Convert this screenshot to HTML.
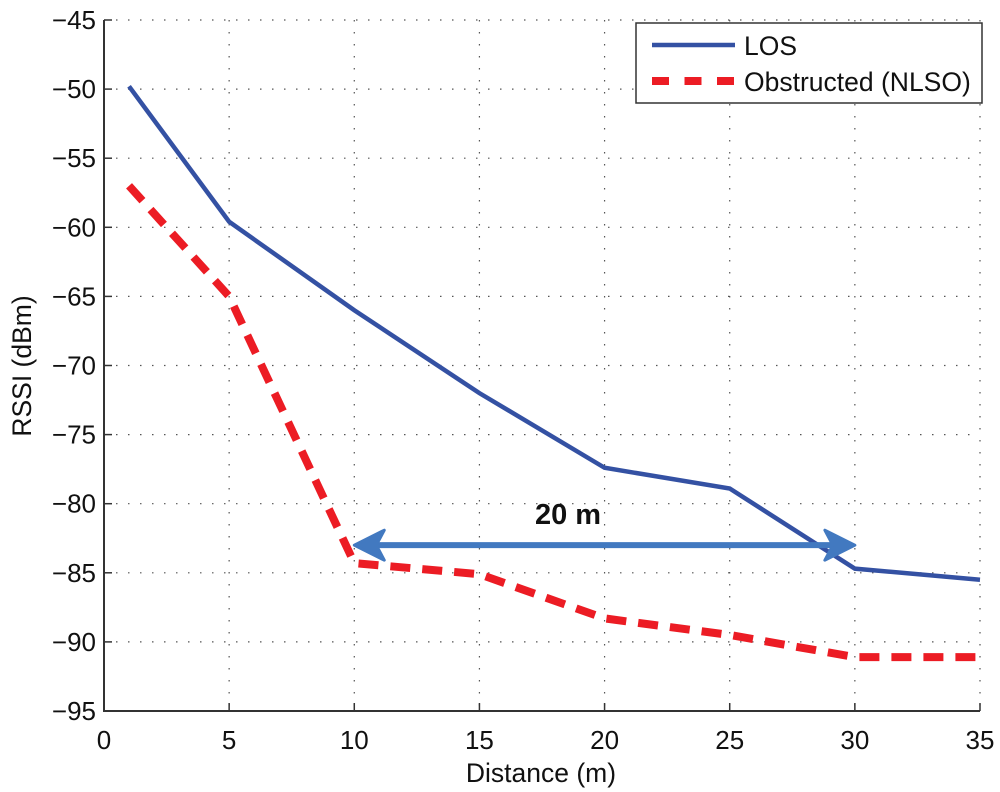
<!DOCTYPE html>
<html><head><meta charset="utf-8"><style>
html,body{margin:0;padding:0;background:#fff;}
svg{display:block;font-family:"Liberation Sans",Arial,sans-serif;}
</style></head><body>
<svg id="chart" width="1000" height="792" viewBox="0 0 1000 792" xmlns="http://www.w3.org/2000/svg">
<g id="grid"></g>
<g id="axes"></g>
<g id="series"></g>
<g id="annot"></g>
<g id="legend"></g>
</svg>
<script>
const distances = [1, 5, 10, 15, 20, 25, 30, 35];
const losValues = [-49.8, -59.6, -66.0, -72.0, -77.4, -78.9, -84.7, -85.5];
const nlosValues = [-57.0, -65.0, -84.3, -85.1, -88.3, -89.5, -91.1, -91.1];
const xTicks = [0, 5, 10, 15, 20, 25, 30, 35];
const yTicks = [-45, -50, -55, -60, -65, -70, -75, -80, -85, -90, -95];
const arrowSpan = [10, 30];
const arrowLevel = -83;

const NS = "http://www.w3.org/2000/svg";
const L = 104, R = 980, T = 20, B = 711;
const xs = v => L + (v - 0) / 35 * (R - L);
const ys = v => T + (-45 - v) / 50 * (B - T);
function mk(tag, attrs, parent) {
  const e = document.createElementNS(NS, tag);
  for (const k in attrs) e.setAttribute(k, attrs[k]);
  parent.appendChild(e);
  return e;
}
const grid = document.getElementById('grid');
const axes = document.getElementById('axes');
const series = document.getElementById('series');
const annot = document.getElementById('annot');
const legend = document.getElementById('legend');

xTicks.forEach(t => {
  const x = xs(t);
  if (t > 0) {
    const g = mk('line', {x1: x, y1: T, x2: x, y2: B, stroke: '#555', 'stroke-width': 1.2, 'stroke-dasharray': '1.5 10.5'}, grid);
    
    
  }
  const tk = mk('line', {x1: x, y1: B, x2: x, y2: B - 8, stroke: '#333', 'stroke-width': 1.5}, axes);
  
  
  const lb = mk('text', {x: x, y: 749, 'text-anchor': 'middle', 'font-size': 26, fill: '#111'}, axes);
  lb.textContent = t;
  
  
});
yTicks.forEach(t => {
  const y = ys(t);
  if (t > -95) {
    const g = mk('line', {x1: L, y1: y, x2: R, y2: y, stroke: '#555', 'stroke-width': 1.2, 'stroke-dasharray': '1.5 10.5'}, grid);
    
    
  }
  const tk = mk('line', {x1: L, y1: y, x2: L + 8, y2: y, stroke: '#333', 'stroke-width': 1.5}, axes);
  
  
  const lb = mk('text', {x: 96, y: y + 9, 'text-anchor': 'end', 'font-size': 26, fill: '#111'}, axes);
  lb.textContent = '\u2212' + Math.abs(t);
  
  
});
const ax = mk('path', {d: `M${L},${T} L${L},${B} L${R},${B}`, fill: 'none', stroke: '#333', 'stroke-width': 2}, axes);


const xt = mk('text', {x: 541, y: 782, 'text-anchor': 'middle', 'font-size': 26.5, fill: '#111'}, axes);
xt.textContent = 'Distance (m)';


const yt = mk('text', {x: 31, y: 366, 'text-anchor': 'middle', 'font-size': 26.5, fill: '#111', transform: 'rotate(-90 31 366)'}, axes);
yt.textContent = 'RSSI (dBm)';



const losPts = distances.map((d, i) => xs(d) + ',' + ys(losValues[i])).join(' ');
const los = mk('polyline', {points: losPts, fill: 'none', stroke: '#3451a3', 'stroke-width': 4.5, 'stroke-linejoin': 'miter'}, series);


const nlosPts = distances.map((d, i) => xs(d) + ',' + ys(nlosValues[i])).join(' ');
const nlos = mk('polyline', {points: nlosPts, fill: 'none', stroke: '#ec1c24', 'stroke-width': 8, 'stroke-dasharray': '20 12'}, series);



const ax1 = xs(arrowSpan[0]), ax2 = xs(arrowSpan[1]), ay = ys(arrowLevel);
const shaft = mk('line', {x1: ax1 + 15, y1: ay, x2: ax2 - 15, y2: ay, stroke: '#4279c0', 'stroke-width': 6}, annot);


const h1 = mk('path', {d: `M${ax1},${ay} L${ax1 + 30},${ay - 15} L${ax1 + 22},${ay} L${ax1 + 30},${ay + 15} Z`, fill: '#4279c0', stroke: '#4279c0', 'stroke-width': 3, 'stroke-linejoin': 'round'}, annot);


const h2 = mk('path', {d: `M${ax2},${ay} L${ax2 - 30},${ay - 15} L${ax2 - 22},${ay} L${ax2 - 30},${ay + 15} Z`, fill: '#4279c0', stroke: '#4279c0', 'stroke-width': 3, 'stroke-linejoin': 'round'}, annot);


const at = mk('text', {x: 568, y: 524, 'text-anchor': 'middle', 'font-size': 29, 'font-weight': 'bold', fill: '#111'}, annot);
at.textContent = '20 m';



const lb = mk('rect', {x: 636, y: 23, width: 346, height: 80, fill: '#fff', stroke: '#333', 'stroke-width': 1.5}, legend);


const l1 = mk('line', {x1: 652, y1: 45, x2: 735, y2: 45, stroke: '#3451a3', 'stroke-width': 4.5}, legend);


const t1 = mk('text', {x: 744, y: 55, 'font-size': 26.5, fill: '#111'}, legend);
t1.textContent = 'LOS';


const l2 = mk('line', {x1: 652, y1: 81, x2: 735, y2: 81, stroke: '#ec1c24', 'stroke-width': 8, 'stroke-dasharray': '17 15.5'}, legend);


const t2 = mk('text', {x: 744, y: 91, 'font-size': 26.5, fill: '#111'}, legend);
t2.textContent = 'Obstructed (NLSO)';


</script>
</body></html>
